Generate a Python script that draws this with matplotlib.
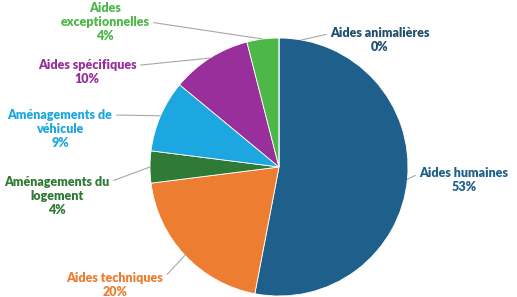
import matplotlib
matplotlib.use("Agg")
import matplotlib.pyplot as plt
import numpy as np

categories = ["Aides humaines", "Aides techniques", "Aménagements du\nlogement",
              "Aménagements de\nvéhicule", "Aides spécifiques", "Aides\nexceptionnelles",
              "Aides animalières"]
values = [53, 20, 4, 9, 10, 4, 0]
pct_labels = ["53%", "20%", "4%", "9%", "10%", "4%", "0%"]
colors = ["#1F5F8B", "#ED7D31", "#2E7A36", "#1DA7E0", "#982F9A", "#4DB848", "#1F5F8B"]
text_colors = ["#1F5F8B", "#ED7D31", "#2E7A36", "#1DA7E0", "#982F9A", "#4DB848", "#1F4E6E"]

W, H = 517, 297
cx, cy, R = 279, 167, 129  # pie center / radius in pixels

fig = plt.figure(figsize=(W / 100, H / 100), dpi=100)
ax = fig.add_axes([0, 0, 1, 1])

wedges, _ = ax.pie(values, colors=colors, startangle=90, counterclock=False,
                   radius=1.0, wedgeprops=dict(edgecolor="white", linewidth=0.6))
ax.set_xlim(-cx / R, (W - cx) / R)
ax.set_ylim(-(H - cy) / R, cy / R)
ax.set_aspect("equal")
ax.axis("off")

def px(x, y):
    return ((x - cx) / R, (cy - y) / R)

# layout: text centers in pixels, relpos for leader line start
layout = [
    ((464, 180), (0.0, 0.75)),
    ((115, 285), (1.0, 0.75)),
    ((57, 196), (1.0, 0.85)),
    ((60, 129), (1.0, 0.85)),
    ((87, 72), (1.0, 0.75)),
    ((105, 22), (1.0, 0.5)),
    ((380, 40), (0.0, 0.75)),
]

total = sum(values)
cum = 0
for i, v in enumerate(values):
    mid = 90 - 360 * (cum + v / 2) / total
    cum += v
    if v == 0:
        mid = 80
    xy = (1.0 * np.cos(np.radians(mid)), 1.0 * np.sin(np.radians(mid)))
    (tx, ty), rel = layout[i]
    ax.annotate(f"{categories[i]}\n{pct_labels[i]}", xy=xy, xytext=px(tx, ty),
                ha="center", va="center", fontsize=9, fontweight="heavy",
                family=["Lato", "DejaVu Sans"], color=text_colors[i], linespacing=1.2,
                arrowprops=dict(arrowstyle="-", color="#A8A8A8", lw=0.8,
                                shrinkA=1, shrinkB=0, relpos=rel))

fig.savefig("out.png", dpi=100)
